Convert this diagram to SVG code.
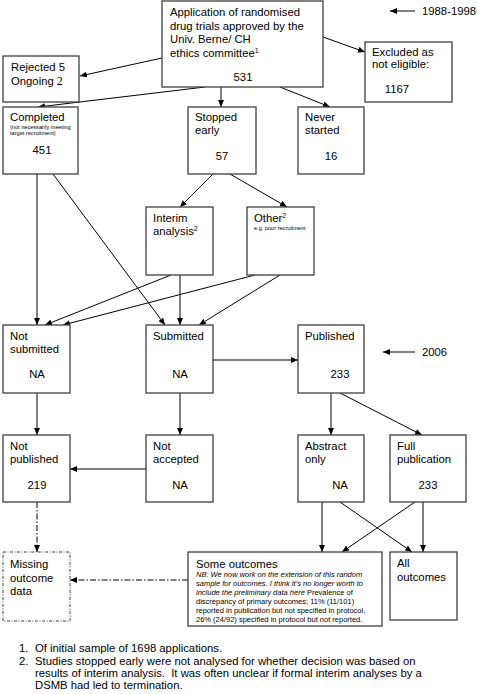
<svg xmlns="http://www.w3.org/2000/svg" width="478" height="694" viewBox="0 0 478 694">
<style>
text{font-family:"Liberation Sans",Arial,sans-serif;font-size:11.3px;fill:#000}
.box{fill:#fff;stroke:#404040;stroke-width:1.3}
.dbox{fill:#fff;stroke:#404040;stroke-width:1;stroke-dasharray:3,1.5,1,1.5}
.sm{font-size:5.6px}
.nb{font-size:7.5px}
.it{font-style:italic}
.sup{font-size:7px}
.ln{stroke:#000;stroke-width:1;fill:none}
.dd{stroke:#000;stroke-width:1;fill:none;stroke-dasharray:6,2,1.5,2}
.mid{text-anchor:middle}
</style>
<defs>
<marker id="ah" markerWidth="7" markerHeight="6" refX="7" refY="3" orient="auto" markerUnits="userSpaceOnUse">
<path d="M0,0 L7,3 L0,6 z" fill="#000"/>
</marker>
</defs>
<rect width="478" height="694" fill="#fff"/>

<g id="connectors">
<line class="ln" x1="162" y1="58" x2="80" y2="76" marker-end="url(#ah)"/>
<line class="ln" x1="323" y1="37" x2="365" y2="52" marker-end="url(#ah)"/>
<line class="ln" x1="205" y1="87" x2="38" y2="107" marker-end="url(#ah)"/>
<line class="ln" x1="221" y1="87" x2="221" y2="107" marker-end="url(#ah)"/>
<line class="ln" x1="280" y1="87" x2="330" y2="107" marker-end="url(#ah)"/>
<line class="ln" x1="415" y1="11" x2="390" y2="11" marker-end="url(#ah)"/>
<line class="ln" x1="213" y1="174" x2="180" y2="207" marker-end="url(#ah)"/>
<line class="ln" x1="230" y1="174" x2="287" y2="207" marker-end="url(#ah)"/>
<line class="ln" x1="37" y1="174" x2="37" y2="325" marker-end="url(#ah)"/>
<line class="ln" x1="53" y1="174" x2="165" y2="325" marker-end="url(#ah)"/>
<line class="ln" x1="171" y1="275" x2="45" y2="325" marker-end="url(#ah)"/>
<line class="ln" x1="180" y1="275" x2="180" y2="325" marker-end="url(#ah)"/>
<line class="ln" x1="255" y1="275" x2="63" y2="325" marker-end="url(#ah)"/>
<line class="ln" x1="280" y1="275" x2="199" y2="325" marker-end="url(#ah)"/>
<line class="ln" x1="213" y1="360" x2="298" y2="360" marker-end="url(#ah)"/>
<line class="ln" x1="415" y1="352" x2="383" y2="352" marker-end="url(#ah)"/>
<line class="ln" x1="37" y1="393" x2="37" y2="435" marker-end="url(#ah)"/>
<line class="ln" x1="180" y1="393" x2="180" y2="435" marker-end="url(#ah)"/>
<line class="ln" x1="331" y1="393" x2="331" y2="435" marker-end="url(#ah)"/>
<line class="ln" x1="340" y1="393" x2="422" y2="435" marker-end="url(#ah)"/>
<line class="ln" x1="146" y1="469" x2="70" y2="469" marker-end="url(#ah)"/>
<line class="dd" x1="37" y1="502" x2="37" y2="552" marker-end="url(#ah)"/>
<line class="dd" x1="188" y1="580" x2="70" y2="580" marker-end="url(#ah)"/>
<line class="ln" x1="322" y1="502" x2="322" y2="552" marker-end="url(#ah)"/>
<line class="ln" x1="340" y1="502" x2="412" y2="552" marker-end="url(#ah)"/>
<line class="ln" x1="415" y1="502" x2="342" y2="552" marker-end="url(#ah)"/>
<line class="ln" x1="423" y1="502" x2="423" y2="552" marker-end="url(#ah)"/>
</g>

<g id="application">
<rect class="box" x="162" y="1" width="161" height="86"/>
<text x="170" y="16">Application of randomised</text>
<text x="170" y="30">drug trials approved by the</text>
<text x="170" y="43">Univ. Berne/ CH</text>
<text x="170" y="57">ethics committee<tspan class="sup" dy="-4">1</tspan></text>
<text x="243" y="81" class="mid">531</text>
</g>
<text x="422" y="15">1988-1998</text>

<g id="rejected">
<rect class="box" x="3" y="56" width="76" height="46"/>
<text x="11" y="71">Rejected 5</text>
<text x="11" y="85">Ongoing <tspan style="font-family:'Liberation Serif','Times New Roman',serif;font-size:12px">2</tspan></text>
</g>

<g id="excluded">
<rect class="box" x="365" y="42" width="87" height="60"/>
<text x="372" y="56">Excluded as</text>
<text x="372" y="68">not eligible:</text>
<text x="397" y="93" class="mid">1167</text>
</g>

<g id="completed">
<rect class="box" x="3" y="107" width="75" height="67"/>
<text x="10" y="121">Completed</text>
<text x="10" y="129" class="sm">(not necessarily meeting</text>
<text x="10" y="135" class="sm">target recruitment)</text>
<text x="42" y="154" class="mid">451</text>
</g>

<g id="stopped">
<rect class="box" x="188" y="107" width="68" height="67"/>
<text x="195" y="121">Stopped</text>
<text x="195" y="134">early</text>
<text x="222" y="160" class="mid">57</text>
</g>

<g id="never">
<rect class="box" x="298" y="107" width="66" height="67"/>
<text x="305" y="121">Never</text>
<text x="305" y="134">started</text>
<text x="331" y="160" class="mid">16</text>
</g>

<g id="interim">
<rect class="box" x="146" y="207" width="67" height="68"/>
<text x="153" y="222">Interim</text>
<text x="153" y="235">analysis<tspan class="sup" dy="-4">2</tspan></text>
</g>

<g id="other">
<rect class="box" x="247" y="207" width="67" height="68"/>
<text x="254" y="222">Other<tspan class="sup" dy="-4">2</tspan></text>
<text x="254" y="230" class="sm">e.g. poor recruitment</text>
</g>

<g id="notsubmitted">
<rect class="box" x="3" y="325" width="67" height="68"/>
<text x="10" y="340">Not</text>
<text x="10" y="353">submitted</text>
<text x="37" y="378" class="mid">NA</text>
</g>

<g id="submitted">
<rect class="box" x="146" y="325" width="67" height="68"/>
<text x="153" y="340">Submitted</text>
<text x="180" y="378" class="mid">NA</text>
</g>

<g id="published">
<rect class="box" x="298" y="325" width="66" height="68"/>
<text x="305" y="340">Published</text>
<text x="340" y="378" class="mid">233</text>
</g>
<text x="422" y="356">2006</text>

<g id="notpublished">
<rect class="box" x="3" y="435" width="67" height="67"/>
<text x="10" y="450">Not</text>
<text x="10" y="463">published</text>
<text x="37" y="489" class="mid">219</text>
</g>

<g id="notaccepted">
<rect class="box" x="146" y="435" width="67" height="67"/>
<text x="153" y="450">Not</text>
<text x="153" y="463">accepted</text>
<text x="180" y="489" class="mid">NA</text>
</g>

<g id="abstract">
<rect class="box" x="298" y="435" width="66" height="67"/>
<text x="305" y="450">Abstract</text>
<text x="305" y="463">only</text>
<text x="340" y="489" class="mid">NA</text>
</g>

<g id="full">
<rect class="box" x="390" y="435" width="76" height="67"/>
<text x="397" y="450">Full</text>
<text x="397" y="463">publication</text>
<text x="428" y="489" class="mid">233</text>
</g>

<g id="missing">
<rect class="dbox" x="3" y="552" width="67" height="69"/>
<text x="10" y="568">Missing</text>
<text x="10" y="582">outcome</text>
<text x="10" y="595">data</text>
</g>

<g id="some">
<rect class="box" x="188" y="552" width="194" height="74"/>
<text x="196" y="568">Some outcomes</text>
<text x="196" y="577" class="nb it">NB: We now work on the extension of this random</text>
<text x="196" y="586" class="nb it">sample for outcomes. I think it’s no longer worth to</text>
<text x="196" y="595" class="nb"><tspan class="it">include the preliminary data here</tspan> Prevalence of</text>
<text x="196" y="604" class="nb">discrepancy of primary outcomes; 11% (11/101)</text>
<text x="196" y="613" class="nb">reported in publication but not specified in protocol,</text>
<text x="196" y="622" class="nb">26% (24/92) specified in protocol but not reported.</text>
</g>

<g id="all">
<rect class="box" x="390" y="552" width="67" height="68"/>
<text x="397" y="567">All</text>
<text x="397" y="581">outcomes</text>
</g>

<g id="footnotes">
<text x="19" y="652">1.</text>
<text x="35" y="652">Of initial sample of 1698 applications.</text>
<text x="19" y="665">2.</text>
<text x="35" y="665">Studies stopped early were not analysed for whether decision was based on</text>
<text x="35" y="677">results of interim analysis.&#160; It was often unclear if formal interim analyses by a</text>
<text x="35" y="689">DSMB had led to termination.</text>
</g>
</svg>
